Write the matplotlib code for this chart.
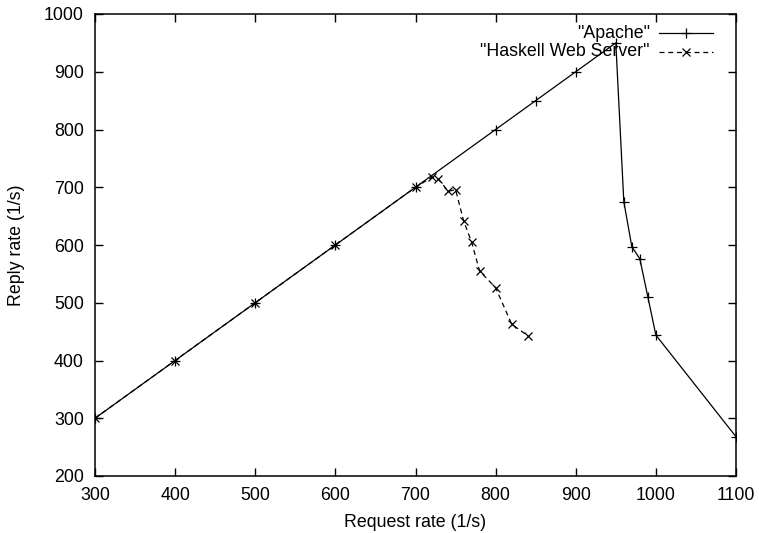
import matplotlib
matplotlib.use("Agg")
import matplotlib.pyplot as plt

plt.rcParams['font.family'] = ['Liberation Sans', 'DejaVu Sans']
plt.rcParams['font.size'] = 12.8

apache_x = [300, 400, 500, 600, 700, 800, 850, 900, 950, 960, 970, 980, 990, 1000, 1100]
apache_y = [300, 400, 500, 600, 700, 800, 850, 900, 950, 675, 597, 576, 510, 444, 268]

haskell_x = [300, 400, 500, 600, 700, 720, 728, 741, 750, 760, 770, 780, 800, 820, 840]
haskell_y = [300, 400, 500, 600, 700, 717, 715, 693, 696, 642, 605, 555, 526, 463, 443]

labels = ['"Apache"', '"Haskell Web Server"']

fig = plt.figure(figsize=(7.59, 5.33), dpi=100)
ax = fig.add_axes([95/759, 1-476/533, (736-95)/759, (476-14)/533])

ax.plot(apache_x, apache_y, color='black', lw=0.9, marker='+', ms=7, mew=0.9)
ax.plot(haskell_x, haskell_y, color='black', lw=0.9, ls=(0, (4, 3)), marker='x', ms=6, mew=0.9)

ax.set_xlim(300, 1100)
ax.set_ylim(200, 1000)
ax.set_xticks(range(300, 1101, 100))
ax.set_yticks(range(200, 1001, 100))
ax.tick_params(direction='in', length=5.5, width=1.0, top=True, right=True, pad=8)
for s in ax.spines.values():
    s.set_linewidth(1.1)

ax.set_xlabel('Request rate (1/s)', labelpad=7)
ax.set_ylabel('Reply rate (1/s)', labelpad=14)

# gnuplot-style legend: right-aligned text, sample line to the right
rows_y = [1 - (33-14)/462, 1 - (52-14)/462]
text_x = (650-95)/641
l0, l1, lm = (659-95)/641, (713-95)/641, (686-95)/641
styles = [dict(ls='-', marker='+', ms=7), dict(ls=(0, (4, 3)), marker='x', ms=6)]
for lab, yy, st in zip(labels, rows_y, styles):
    ax.text(text_x, yy, lab, transform=ax.transAxes, ha='right', va='center')
    ax.plot([l0, l1], [yy, yy], transform=ax.transAxes, color='black', lw=0.9,
            ls=st['ls'], clip_on=False)
    ax.plot([lm], [yy], transform=ax.transAxes, color='black', marker=st['marker'],
            ms=st['ms'], mew=0.9, clip_on=False)

fig.savefig('out.png', dpi=100)
